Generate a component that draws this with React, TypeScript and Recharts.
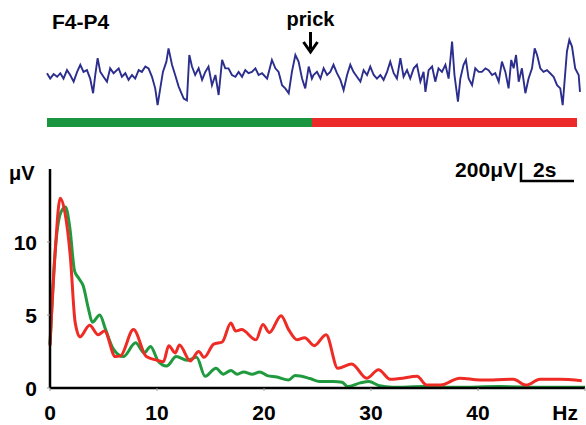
import { Bar, BarChart, Line, LineChart, ReferenceDot, XAxis, YAxis } from "recharts";

const font = "'Liberation Sans', Arial, Helvetica, sans-serif";

// EEG trace, F4-P4: [seconds, microvolts]
const eegTrace: [number, number][] = [
  [0, 20], [0.12, -40], [0.25, 10], [0.38, -20], [0.5, 20], [0.62, -40], [0.75, 55], [0.87, 0],
  [1.0, -75], [1.13, 35], [1.25, 115], [1.37, 35], [1.5, 55], [1.62, -40], [1.73, -205], [1.81, 0],
  [1.9, 190], [2.0, 35], [2.12, -20], [2.25, -75], [2.37, 75], [2.5, 20], [2.69, 75], [2.81, -20],
  [2.94, 20], [3.06, -55], [3.19, 0], [3.31, -40], [3.44, 55], [3.56, 35], [3.69, 95], [3.81, 75],
  [3.94, -20], [4.06, -150], [4.15, -340], [4.25, -150], [4.35, 35], [4.48, 150], [4.56, 300], [4.69, 115],
  [4.81, 0], [4.94, -130], [5.13, -265], [5.25, -285], [5.34, 225], [5.44, 95], [5.56, 0], [5.69, 75],
  [5.82, -55], [5.94, 35], [6.06, 95], [6.19, -115], [6.32, 0], [6.44, -225], [6.57, 170], [6.69, 75],
  [6.81, 75], [6.94, 0], [7.07, -20], [7.19, 35], [7.32, -20], [7.44, 55], [7.56, 20], [7.69, 35],
  [7.82, 75], [7.94, 0], [8.07, 20], [8.26, -40], [8.44, 170], [8.57, 75], [8.69, 35], [8.82, -115],
  [8.94, -150], [9.07, -205], [9.19, 35], [9.32, 225], [9.44, 150], [9.57, -40], [9.69, -150], [9.82, 95],
  [9.94, -40], [10.0, 0], [10.13, 35], [10.26, -40], [10.38, 75], [10.51, 0], [10.63, 35], [10.75, 115],
  [10.88, 20], [11.01, -55], [11.13, -170], [11.26, 0], [11.38, 115], [11.5, 35], [11.63, -20], [11.76, -75],
  [11.88, 55], [12.01, 0], [12.13, 95], [12.26, 0], [12.38, -40], [12.51, 0], [12.63, -55], [12.76, 35],
  [12.88, 150], [13.01, 20], [13.13, -40], [13.26, 190], [13.38, -20], [13.51, 55], [13.63, -40], [13.76, 75],
  [13.88, 115], [14.01, -75], [14.13, 35], [14.2, -190], [14.32, 55], [14.45, 95], [14.57, -75], [14.69, 75],
  [14.82, 35], [14.95, 115], [15.07, -40], [15.2, 375], [15.29, 0], [15.42, -300], [15.51, -40], [15.63, 115],
  [15.72, 170], [15.82, -40], [15.95, -115], [16.07, 75], [16.2, 35], [16.32, 35], [16.45, 75], [16.57, 55],
  [16.7, 0], [16.82, 20], [16.95, -75], [17.07, 150], [17.2, 35], [17.32, -150], [17.42, 170], [17.51, 75],
  [17.6, 225], [17.7, -75], [17.82, 75], [17.95, -205], [18.07, -40], [18.2, 75], [18.3, 300], [18.39, 225],
  [18.51, 75], [18.63, 35], [18.76, 55], [18.88, 20], [19.01, -20], [19.14, -115], [19.26, -150], [19.35, -340],
  [19.42, -75], [19.51, 265], [19.6, 395], [19.7, 320], [19.82, 75], [19.95, 0], [20.0, -190],
];

// epochs under the trace (seconds): before / after the prick
const epochs = [{ name: "trace", before: 10, after: 10 }];
const prickTime = 10;

// amplitude spectra: [Hz, µV]
const beforeSpectrum: [number, number][] = [
  [0, 3.0], [0.5, 9.5], [1.0, 12.0], [1.45, 12.4], [1.85, 11.0], [2.3, 8.0], [2.7, 7.5], [3.1, 7.0],
  [3.6, 5.4], [3.95, 4.5], [4.65, 5.0], [5.2, 4.0], [5.9, 2.7], [6.85, 2.15], [8.0, 3.1], [8.8, 2.4],
  [9.4, 2.85], [10.1, 1.85], [10.9, 1.5], [11.8, 2.15], [12.8, 1.9], [13.7, 2.1], [14.5, 0.8], [15.5, 1.35],
  [16.2, 0.95], [16.9, 1.2], [17.5, 0.95], [18.1, 1.1], [18.9, 0.95], [19.6, 1.1], [20.3, 0.85], [21.2, 0.75],
  [22.3, 0.55], [22.9, 0.85], [24.3, 0.65], [25.2, 0.45], [26.5, 0.45], [27.3, 0.4], [27.8, 0.1], [29.0, 0.35],
  [29.8, 0.45], [30.8, 0.15], [32, 0.05], [35, 0.1], [38, 0.05], [42, 0.1], [46, 0.05], [50, 0.05],
];
const afterSpectrum: [number, number][] = [
  [0, 2.9], [0.5, 9.5], [0.95, 13.0], [1.4, 12.0], [1.9, 9.0], [2.35, 4.5], [2.8, 3.5], [3.7, 4.3],
  [4.5, 3.65], [5.1, 3.9], [6.1, 2.15], [6.6, 2.2], [7.8, 4.0], [9.0, 2.15], [10.0, 1.9], [10.6, 1.8],
  [11.1, 2.9], [11.7, 2.4], [12.1, 2.95], [13.1, 1.85], [13.9, 2.5], [14.4, 2.1], [15.3, 3.0], [16.1, 3.15],
  [16.9, 4.45], [17.35, 3.9], [17.9, 4.0], [19.25, 3.3], [19.9, 4.35], [20.5, 3.8], [21.6, 4.95], [22.3, 4.0],
  [23.1, 3.3], [23.8, 3.45], [24.7, 2.9], [25.8, 3.65], [26.9, 1.35], [28.2, 1.65], [29.6, 0.67], [30.7, 1.25],
  [31.8, 0.6], [32.7, 0.65], [34.3, 0.8], [35.2, 0.2], [36.5, 0.2], [38.3, 0.67], [40.2, 0.55], [41.4, 0.55],
  [43.3, 0.6], [44.5, 0.2], [45.8, 0.6], [47.6, 0.6], [49.7, 0.5],
];

const hzTicks = [0, 10, 20, 30, 40, 50];
const uvTicks = [0, 5, 10];

const traceData = eegTrace.map(([t, uv]) => ({ t, uv }));
const spectrumData = [
  ...beforeSpectrum.map(([hz, v]) => ({ hz, before: v })),
  ...afterSpectrum.map(([hz, v]) => ({ hz, after: v })),
].sort((a, b) => a.hz - b.hz);

const labelStyle = { fontFamily: font, fontWeight: 700, fontSize: 21, fill: "#000" };

function HzTick({ x, y, payload }: any) {
  const isUnit = payload.value === 50;
  return (
    <text x={x} y={y} dy="0.71em" textAnchor={isUnit ? "end" : "middle"} style={labelStyle}>
      {isUnit ? "Hz" : payload.value}
    </text>
  );
}

function UvTick({ x, y, payload }: any) {
  return (
    <text x={x} y={y} dy="0.36em" textAnchor="end" style={labelStyle}>
      {payload.value}
    </text>
  );
}

function PrickArrow({ cx, cy }: any) {
  const x = cx - 3;
  return (
    <g>
      <text x={x} y={cy - 9} textAnchor="middle" style={{ ...labelStyle, fontSize: 20 }}>prick</text>
      <line x1={x} x2={x} y1={cy - 3} y2={cy + 14} stroke="#000" strokeWidth={3} />
      <path d={`M${x - 7},${cy + 7} L${x},${cy + 17} L${x + 7},${cy + 7}`} fill="none" stroke="#000" strokeWidth={3} />
    </g>
  );
}

export default function App() {
  return (
    <div style={{ position: "absolute", left: 0, top: 0, width: 586, height: 425, background: "#fff", overflow: "hidden" }}>
      <div style={{ position: "absolute", left: 0, top: 0 }}>
        <LineChart width={586} height={130} data={traceData} margin={{ top: 35, right: 6, bottom: 15, left: 47 }}>
          <XAxis dataKey="t" type="number" domain={[0, 20]} hide />
          <YAxis type="number" domain={[-450, 450]} hide allowDataOverflow />
          <Line dataKey="uv" type="linear" stroke="#2b2e8c" strokeWidth={1.9} dot={false} isAnimationActive={false} />
          <ReferenceDot x={prickTime} y={450} r={0} shape={PrickArrow} />
        </LineChart>
      </div>

      <div style={{ position: "absolute", left: 0, top: 118 }}>
        <BarChart width={586} height={9} data={epochs} layout="vertical" barCategoryGap={0} margin={{ top: 0, right: 9, bottom: 0, left: 47 }}>
          <XAxis type="number" domain={[0, 20]} hide />
          <YAxis type="category" dataKey="name" hide />
          <Bar dataKey="before" stackId="e" fill="#1a9641" isAnimationActive={false} />
          <Bar dataKey="after" stackId="e" fill="#ec2a2a" isAnimationActive={false} />
        </BarChart>
      </div>

      <div style={{ position: "absolute", left: 0, top: 0 }}>
        <LineChart width={586} height={425} data={spectrumData} margin={{ top: 169, right: 1, bottom: 0, left: 10 }}>
          <XAxis
            dataKey="hz"
            type="number"
            domain={[0, 50]}
            ticks={hzTicks}
            height={37}
            tickSize={3}
            tickMargin={14}
            axisLine={{ stroke: "#000", strokeWidth: 2.5 }}
            tickLine={{ stroke: "#999" }}
            tick={HzTick}
          />
          <YAxis
            type="number"
            domain={[0, 15]}
            ticks={uvTicks}
            width={40}
            tickSize={3}
            tickMargin={10}
            axisLine={{ stroke: "#000", strokeWidth: 2.5 }}
            tickLine={{ stroke: "#999" }}
            tick={UvTick}
          />
          <Line dataKey="before" type="monotone" stroke="#1f9a3e" strokeWidth={3} dot={false} connectNulls isAnimationActive={false} />
          <Line dataKey="after" type="monotone" stroke="#ee2b25" strokeWidth={3} dot={false} connectNulls isAnimationActive={false} />
        </LineChart>
      </div>

      <svg width={586} height={425} style={{ position: "absolute", left: 0, top: 0, pointerEvents: "none" }}>
        <text x={52} y={29} style={{ ...labelStyle, fontSize: 21 }}>F4-P4</text>
        <text x={9} y={180} style={{ ...labelStyle, fontSize: 20 }}>μV</text>
        <text x={517} y={177} textAnchor="end" style={labelStyle}>200μV</text>
        <text x={533} y={177} style={labelStyle}>2s</text>
        <polyline points="521,163 521,181 574,181" fill="none" stroke="#000" strokeWidth={2.5} />
      </svg>
    </div>
  );
}
